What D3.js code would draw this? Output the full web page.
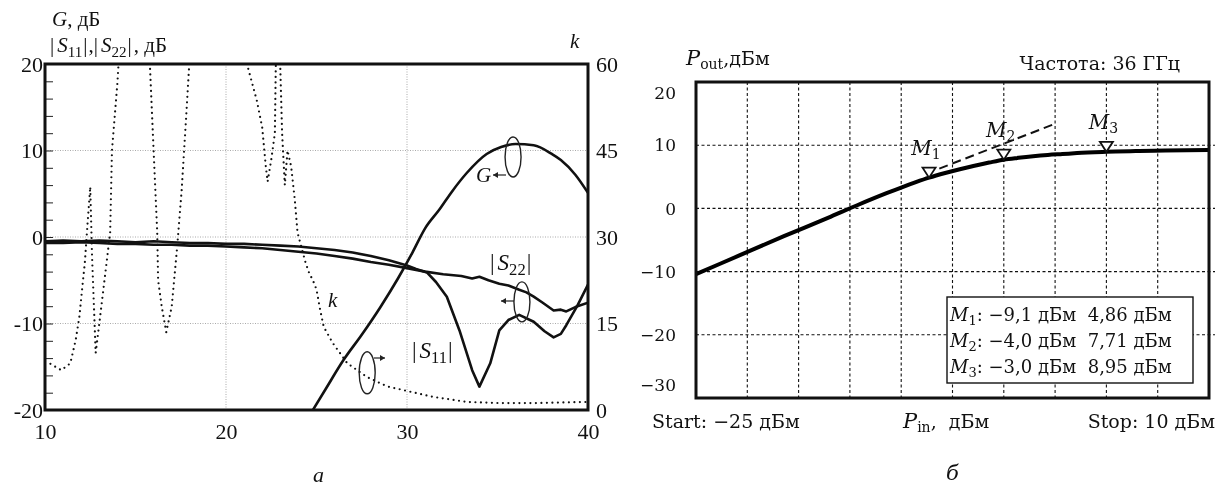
<!DOCTYPE html>
<html>
<head>
<meta charset="utf-8">
<script src="https://cdn.jsdelivr.net/npm/d3@7"></script>
<style>
  body { margin: 0; background: #fff; }
  svg { display: block; will-change: transform; }
  text { fill: #111; opacity: 0.999; }
</style>
</head>
<body>
<div id="chart"></div>
<script>
// ---- panel (а): frequency response, 10..40 GHz ----
const freqTicks = [10, 20, 30, 40];
const dbTicks = [-20, -10, 0, 10, 20];
const kTicks = [0, 15, 30, 45, 60];

const gFreq = [24.8, 25.5, 26.5, 27.5, 28.5, 29.5, 30.3, 31, 31.8, 32.5, 33.3, 34.4, 35.2, 36, 37, 38, 38.5, 39.3, 40];
const gVals = [-20, -17.6, -14.2, -11.3, -8.2, -4.8, -1.8, 1, 3.2, 5.3, 7.4, 9.6, 10.4, 10.75, 10.6, 9.6, 8.9, 7.2, 5.1];

const s11Freq = [10, 11, 12, 13, 14, 15, 16, 17, 18, 19, 20, 21, 22, 23, 24, 25, 26, 27, 28, 29, 30, 30.5, 31.1, 31.6, 32.2, 32.9, 33.6, 34, 34.6, 35.1, 35.6, 36.2, 37, 37.6, 38.1, 38.5, 38.8, 39.4, 40];
const s11Vals = [-0.5, -0.4, -0.5, -0.4, -0.5, -0.6, -0.5, -0.6, -0.7, -0.7, -0.8, -0.8, -0.9, -1.0, -1.1, -1.3, -1.5, -1.8, -2.2, -2.7, -3.3, -3.7, -4.1, -5.2, -6.9, -10.8, -15.4, -17.3, -14.6, -10.8, -9.6, -9.0, -9.8, -10.9, -11.6, -11.2, -10.2, -8.0, -5.5];

const s22Freq = [10, 11, 12, 13, 14, 15, 16, 17, 18, 19, 20, 21, 22, 23, 24, 25, 26, 27, 28, 29, 30, 31, 32, 33, 33.6, 34, 34.5, 35.1, 35.6, 36.2, 36.6, 37, 37.5, 38.1, 38.5, 38.8, 39.3, 40];
const s22Vals = [-0.7, -0.7, -0.6, -0.7, -0.8, -0.8, -0.9, -0.9, -1.0, -1.0, -1.1, -1.2, -1.3, -1.5, -1.7, -1.9, -2.2, -2.5, -2.9, -3.2, -3.6, -4.0, -4.3, -4.5, -4.8, -4.6, -5.0, -5.4, -5.6, -6.1, -6.4, -6.9, -7.6, -8.5, -8.4, -8.6, -8.1, -7.6];

// null marks where k runs off the top of the plot
const kFreq = [10.3, 10.9, 11.4, 11.7, 11.9, 12.1, 12.2, 12.35, 12.5, 12.6, 12.8, 13.0, 13.4, 13.6, 13.7, 14.0, 14.1, 15,
  15.75, 15.8, 16.0, 16.2, 16.25, 16.45, 16.7, 17.0, 17.3, 17.55, 17.8, 17.95, 18.0, 19.5,
  21.15, 21.2, 21.7, 22.0, 22.2, 22.3, 22.5, 22.7, 22.75, 22.78, 22.9,
  22.98, 23.0, 23.1, 23.25, 23.4, 23.6, 23.8, 23.95, 24.1, 24.4, 24.6, 24.8, 25.0, 25.2, 25.4, 25.9, 26.7, 27.8, 28.9, 30, 31.4, 33.3, 35.1, 37, 40];
const kVals = [8.0, 6.9, 8.1, 12.2, 16.2, 22.5, 25.5, 32.3, 38.7, 26.6, 9.9, 15, 25.5, 30.8, 45, 56.7, 62, null,
  62, 59.5, 45, 30.8, 22.5, 17.9, 13.5, 17.9, 28.2, 38.1, 50.9, 58.9, 62, null,
  62, 59.5, 53.7, 49, 42.2, 39.6, 43.4, 48, 59.5, 62, null,
  62, 59.3, 48, 39, 45, 42.2, 36.5, 30.8, 29, 25.5, 23.7, 22.5, 20.9, 17.4, 14.4, 11.6, 8.1, 5.7, 4.1, 3.3, 2.3, 1.4, 1.2, 1.2, 1.4];

// ---- panel (б): Pout vs Pin at 36 GHz ----
const pinTicks = [-25, -21.5, -18, -14.5, -11, -7.5, -4, -0.5, 3, 6.5, 10];
const poutTicks = [-30, -20, -10, 0, 10, 20];
const pinVals = [-25, -22, -19, -16, -14, -12, -11, -10, -9.1, -8, -7, -6, -5, -4, -3, -2, -1, 0, 1, 3, 5, 7, 10];
const poutVals = [-10.4, -7.4, -4.4, -1.5, 0.5, 2.4, 3.3, 4.15, 4.86, 5.6, 6.2, 6.75, 7.25, 7.71, 8.0, 8.25, 8.45, 8.6, 8.75, 8.95, 9.1, 9.15, 9.25];
const asymPin = [-8.4, -0.6];
const asymPout = [6.3, 13.3];
const markerNames = ["1", "2", "3"];
const markerPin = [-9.1, -4.0, 3.0];
const markerPout = [4.86, 7.71, 8.95];
const legendPin = ["−9,1", "−4,0", "−3,0"];
const legendPout = ["4,86", "7,71", "8,95"];

const W = 1219, H = 489;
const svg = d3.select("#chart").append("svg").attr("width", W).attr("height", H);

// ================= panel а =================
const serifL = "'Liberation Serif', 'Times New Roman', serif";
const xL = d3.scaleLinear().domain([10, 40]).range([45, 588]);
const yL = d3.scaleLinear().domain([-20, 20]).range([410, 64]);
const kL = d3.scaleLinear().domain([0, 60]).range([410, 64]);

const left = svg.append("g").attr("font-family", serifL);

left.append("clipPath").attr("id", "clipL")
  .append("rect").attr("x", 45).attr("y", 64).attr("width", 543).attr("height", 346);

// grid
left.append("g").selectAll("line").data([20, 30]).join("line")
  .attr("x1", d => xL(d)).attr("x2", d => xL(d)).attr("y1", 64).attr("y2", 410)
  .attr("stroke", "#aaa").attr("stroke-dasharray", "1,1.5");
left.append("g").selectAll("line").data([-10, 0, 10]).join("line")
  .attr("x1", 45).attr("x2", 588).attr("y1", d => yL(d)).attr("y2", d => yL(d))
  .attr("stroke", "#aaa").attr("stroke-dasharray", "1,1.5");

// minor ticks inside the left axis
left.append("g").attr("transform", "translate(45,0)")
  .call(d3.axisRight(yL).tickValues(d3.range(-18, 20, 2)).tickSize(8).tickFormat(""))
  .call(g => g.select(".domain").remove())
  .call(g => g.selectAll("line").attr("stroke", "#222").attr("stroke-width", 1));

const styleL = g => {
  g.select(".domain").remove();
  g.selectAll("text").attr("font-family", serifL).attr("font-size", 22).attr("fill", "#111");
};
left.append("g").attr("transform", "translate(43,0)")
  .call(d3.axisLeft(yL).tickValues(dbTicks).tickSize(0).tickPadding(0).tickFormat(d => String(d)))
  .call(styleL);
left.append("g").attr("transform", "translate(588,0)")
  .call(d3.axisRight(kL).tickValues(kTicks).tickSize(0).tickPadding(8))
  .call(styleL);
left.append("g").attr("transform", "translate(0,410)")
  .call(d3.axisBottom(xL).tickValues(freqTicks).tickSize(0).tickPadding(13))
  .call(styleL);

// curves
const lineL = (fs, vs) => d3.line()
  .x((d, i) => xL(fs[i])).y((d, i) => yL(vs[i]))(fs);

const curves = left.append("g").attr("clip-path", "url(#clipL)");
curves.append("path").attr("d", lineL(s22Freq, s22Vals))
  .attr("fill", "none").attr("stroke", "#111").attr("stroke-width", 2.6).attr("stroke-linejoin", "round");
curves.append("path").attr("d", lineL(s11Freq, s11Vals))
  .attr("fill", "none").attr("stroke", "#111").attr("stroke-width", 2.6).attr("stroke-linejoin", "round");
curves.append("path")
  .attr("d", d3.line().curve(d3.curveMonotoneX)
    .x((d, i) => xL(gFreq[i])).y((d, i) => yL(gVals[i]))(gFreq))
  .attr("fill", "none").attr("stroke", "#111").attr("stroke-width", 2.6).attr("stroke-linejoin", "round");
curves.append("path")
  .attr("d", d3.line()
    .defined((d, i) => kVals[i] != null)
    .x((d, i) => xL(kFreq[i])).y((d, i) => kL(kVals[i]))(kFreq))
  .attr("fill", "none").attr("stroke", "#111").attr("stroke-width", 2.2)
  .attr("stroke-linecap", "round").attr("stroke-dasharray", "0 5.5");

// frame
left.append("rect").attr("x", 45).attr("y", 64).attr("width", 543).attr("height", 346)
  .attr("fill", "none").attr("stroke", "#111").attr("stroke-width", 3);

function textL(x, y, size) {
  return left.append("text").attr("x", x).attr("y", y).attr("font-size", size);
}

// axis titles
const tl = textL(52, 26, 21);
tl.append("tspan").attr("font-style", "italic").text("G");
tl.append("tspan").text(", дБ");

function sLabel(sel, sub) {
  sel.append("tspan").text("|");
  sel.append("tspan").attr("dx", 3).attr("font-style", "italic").text("S");
  sel.append("tspan").attr("dy", 5).attr("font-size", "0.72em").text(sub);
  sel.append("tspan").attr("dy", -5).attr("dx", 1).text("|");
}
const t2 = textL(50, 52, 21);
sLabel(t2, "11");
t2.append("tspan").attr("dx", 1).text(",");
sLabel(t2, "22");
t2.append("tspan").attr("dx", 2).text(", дБ");

textL(570, 48, 21).attr("font-style", "italic").text("k");

// annotations
const arrowHead = (x, y, dir) => `M${x},${y} l${-5 * dir},-3 l0,6 z`;
function note(cx, cy, ry, ax1, ax2, ay) {
  left.append("ellipse").attr("cx", cx).attr("cy", cy).attr("rx", 8).attr("ry", ry)
    .attr("fill", "none").attr("stroke", "#222").attr("stroke-width", 1.4);
  left.append("line").attr("x1", ax1).attr("x2", ax2).attr("y1", ay).attr("y2", ay)
    .attr("stroke", "#222").attr("stroke-width", 1.2);
  left.append("path").attr("d", arrowHead(ax2, ay, ax2 > ax1 ? 1 : -1)).attr("fill", "#222");
}
note(xL(35.86), yL(9.25), 20, 506, 493, 175);
note(xL(36.35), yL(-7.5), 20, 514, 501, 301);
note(xL(27.8), yL(-15.7), 21, 374, 385, 358);

textL(476, 182, 21).attr("font-style", "italic").text("G");
sLabel(textL(490, 270, 23), "22");
sLabel(textL(412, 358, 23), "11");
textL(328, 307, 21).attr("font-style", "italic").text("k");
textL(313, 482, 22).attr("font-style", "italic").text("а");

// ================= panel б =================
const serifR = "'DejaVu Serif', serif";
const xR = d3.scaleLinear().domain([-25, 10]).range([696, 1209]);
const yR = d3.scaleLinear().domain([-30, 20]).range([398, 82]);

const right = svg.append("g").attr("font-family", serifR).attr("font-size", 19);

// grid
right.append("g").selectAll("line").data(pinTicks.slice(1, -1)).join("line")
  .attr("x1", d => xR(d)).attr("x2", d => xR(d)).attr("y1", 82).attr("y2", 398)
  .attr("stroke", "#111").attr("stroke-width", 1.1).attr("stroke-dasharray", "3,2.5");
right.append("g").selectAll("line").data([-20, -10, 0, 10]).join("line")
  .attr("x1", 696).attr("x2", 1215).attr("y1", d => yR(d)).attr("y2", d => yR(d))
  .attr("stroke", "#111").attr("stroke-width", 1.1).attr("stroke-dasharray", "3,2.5");

// y tick labels (end ones pulled inside like the analyser screen)
right.append("g").selectAll("text").data(poutTicks).join("text")
  .attr("x", 676).attr("font-size", 17)
  .attr("y", d => yR(d) + (d === 20 ? 11 : d === -30 ? -13 : 0))
  .attr("dy", "0.36em").attr("text-anchor", "end")
  .text(d => d < 0 ? "−" + Math.abs(d) : String(d));

// asymptote
right.append("path")
  .attr("d", d3.line().x((d, i) => xR(asymPin[i])).y((d, i) => yR(asymPout[i]))(asymPin))
  .attr("fill", "none").attr("stroke", "#111").attr("stroke-width", 2).attr("stroke-dasharray", "9,5");

// Pout curve
right.append("path")
  .attr("d", d3.line().curve(d3.curveMonotoneX)
    .x((d, i) => xR(pinVals[i])).y((d, i) => yR(poutVals[i]))(pinVals))
  .attr("fill", "none").attr("stroke", "#000").attr("stroke-width", 4).attr("stroke-linejoin", "round");

// markers
markerPin.forEach((p, i) => {
  const x = xR(p), y = yR(markerPout[i]);
  right.append("path").attr("d", `M${x - 6.5},${y - 10} L${x + 6.5},${y - 10} L${x},${y} Z`)
    .attr("fill", "#fff").attr("stroke", "#111").attr("stroke-width", 1.8);
  const t = right.append("text").attr("x", x - 3).attr("y", y - 23).attr("text-anchor", "middle").attr("font-size", 20);
  t.append("tspan").attr("font-style", "italic").text("M");
  t.append("tspan").attr("dy", 4).attr("font-size", 14).text(markerNames[i]);
});

// frame
right.append("rect").attr("x", 696).attr("y", 82).attr("width", 513).attr("height", 316)
  .attr("fill", "none").attr("stroke", "#111").attr("stroke-width", 3);

// marker table
right.append("rect").attr("x", 947).attr("y", 297).attr("width", 246).attr("height", 86)
  .attr("fill", "#fff").attr("stroke", "#111").attr("stroke-width", 1.4);
markerNames.forEach((m, i) => {
  const t = right.append("text").attr("x", 950).attr("y", 321 + i * 26).attr("font-size", 18)
    .style("white-space", "pre");
  t.append("tspan").attr("font-style", "italic").text("M");
  t.append("tspan").attr("dy", 4).attr("font-size", 13).text(m);
  t.append("tspan").attr("dy", -4).text(`: ${legendPin[i]} дБм  ${legendPout[i]} дБм`);
});

// titles
const pt = right.append("text").attr("x", 686).attr("y", 65);
pt.append("tspan").attr("font-style", "italic").attr("font-size", 21).text("P");
pt.append("tspan").attr("dy", 4).attr("font-size", 14).text("out");
pt.append("tspan").attr("dy", -4).text(",дБм");

right.append("text").attr("x", 1180).attr("y", 70).attr("text-anchor", "end").text("Частота: 36 ГГц");
right.append("text").attr("x", 652).attr("y", 428).text("Start: −25 дБм");
right.append("text").attr("x", 1215).attr("y", 428).attr("text-anchor", "end").text("Stop: 10 дБм");
const pi = right.append("text").attr("x", 903).attr("y", 428).style("white-space", "pre");
pi.append("tspan").attr("font-style", "italic").attr("font-size", 21).text("P");
pi.append("tspan").attr("dy", 4).attr("font-size", 14).text("in");
pi.append("tspan").attr("dy", -4).text(",  дБм");
right.append("text").attr("x", 946).attr("y", 480).attr("font-size", 21).attr("font-style", "italic").text("б");
</script>
</body>
</html>
